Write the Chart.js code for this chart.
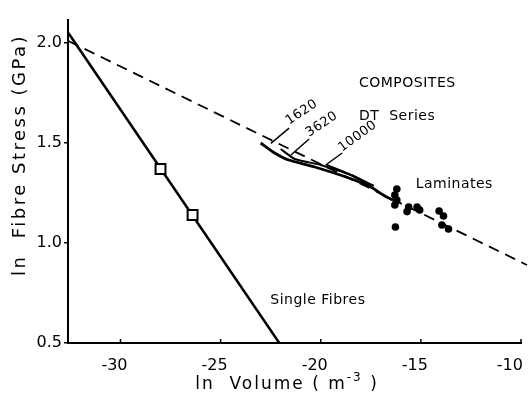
<!DOCTYPE html>
<html>
<head>
<meta charset="utf-8">
<script src="https://cdn.jsdelivr.net/npm/chart.js@4.4.1/dist/chart.umd.min.js"></script>
<style>
  body { margin: 0; background: #fff; }
  #wrap { width: 530px; height: 396px; }
</style>
</head>
<body>
<div id="wrap"><canvas id="chart"></canvas></div>
<script>
// ln volume / ln stress values
let xTicks = [-30, -25, -20, -15, -10]
let yTicks = [0.5, 1.0, 1.5, 2.0]

let dashX = [-32.6, -9.7]
let dashY = [2.01, 0.89]

let fibreLineX = [-32.6, -22.07]
let fibreLineY = [2.05, 0.5]
let fibreX = [-28.0, -26.4]
let fibreY = [1.37, 1.14]

let dt1620X = [-23.0, -22.3, -21.6, -20.3, -18.6, -17.5, -16.8, -16.1]
let dt1620Y = [1.50, 1.45, 1.415, 1.38, 1.325, 1.28, 1.235, 1.20]
let dt3620X = [-22.0, -21.3, -20.0, -18.5, -17.5]
let dt3620Y = [1.47, 1.42, 1.39, 1.34, 1.285]
let dt10000X = [-19.7, -18.35, -17.35]
let dt10000Y = [1.39, 1.335, 1.285]

let lamX = [-16.2, -16.3, -16.2, -16.3, -16.27, -15.69, -15.61, -15.19, -15.06, -14.09, -13.87, -13.95, -13.62]
let lamY = [1.27, 1.24, 1.215, 1.19, 1.08, 1.157, 1.18, 1.18, 1.165, 1.16, 1.135, 1.09, 1.07]

let seriesNames = ['1620', '3620', '10000']

function pts(xs, ys) {
    let out = []
    for (let i = 0; i < xs.length; i++) {
        out.push({ x: xs[i], y: ys[i] })
    }
    return out
}

// leader lines from the series labels down to their curves
let leaders = [
    [{ x: -22.49, y: 1.498 }, { x: -21.58, y: 1.574 }],
    [{ x: -21.49, y: 1.44 }, { x: -20.58, y: 1.52 }],
    [{ x: -19.75, y: 1.39 }, { x: -18.93, y: 1.45 }]
]

Chart.defaults.font.family = "'DejaVu Sans', sans-serif"
Chart.defaults.color = '#000'

let textPlugin = {
    id: 'texts',
    afterDraw(chart) {
        let ctx = chart.ctx
        let sx = chart.scales.x
        let sy = chart.scales.y
        let area = chart.chartArea

        ctx.save()
        ctx.fillStyle = '#000'
        ctx.strokeStyle = '#000'

        // small inward ticks on the x axis
        ctx.lineWidth = 1.5
        sx.ticks.forEach(t => {
            let px = sx.getPixelForValue(t.value)
            ctx.beginPath()
            ctx.moveTo(px, area.bottom)
            ctx.lineTo(px, area.bottom - 4)
            ctx.stroke()
        })

        ctx.textBaseline = 'middle'
        ctx.textAlign = 'left'
        ctx.font = "14px 'DejaVu Sans'"
        ctx.letterSpacing = '0.5px'
        let notes = [
            ['COMPOSITES', -18.09, 1.80],
            ['DT  Series', -18.09, 1.635],
            ['Laminates', -15.26, 1.295],
            ['Single Fibres', -22.52, 0.715]
        ]
        notes.forEach(n => {
            ctx.fillText(n[0], sx.getPixelForValue(n[1]), sy.getPixelForValue(n[2]))
        })

        // rotated series labels
        ctx.font = "13px 'DejaVu Sans'"
        ctx.textBaseline = 'alphabetic'
        let rot = [[-21.58, 1.59, -34], [-20.58, 1.53, -34], [-18.94, 1.455, -36]]
        rot.forEach((r, i) => {
            ctx.save()
            ctx.translate(sx.getPixelForValue(r[0]), sy.getPixelForValue(r[1]))
            ctx.rotate(r[2] * Math.PI / 180)
            ctx.fillText(seriesNames[i], 0, 0)
            ctx.restore()
        })

        // y title
        ctx.save()
        ctx.font = "18px 'DejaVu Sans'"
        ctx.letterSpacing = '2.5px'
        ctx.textAlign = 'center'
        ctx.textBaseline = 'middle'
        ctx.translate(20, 155)
        ctx.rotate(-Math.PI / 2)
        ctx.fillText('ln  Fibre Stress (GPa)', 0, 0)
        ctx.restore()

        // x title with superscript
        ctx.letterSpacing = '2px'
        ctx.textBaseline = 'middle'
        ctx.textAlign = 'left'
        let a = 'ln  Volume ( m', b = '-3', c = ' )'
        ctx.font = "17px 'DejaVu Sans'"
        let wa = ctx.measureText(a).width
        let wc = ctx.measureText(c).width
        ctx.font = "12px 'DejaVu Sans'"
        let wb = ctx.measureText(b).width
        let left = 287 - (wa + wb + wc) / 2
        let ty = 385
        ctx.font = "17px 'DejaVu Sans'"
        ctx.fillText(a, left, ty)
        ctx.font = "12px 'DejaVu Sans'"
        ctx.fillText(b, left + wa, ty - 7)
        ctx.font = "17px 'DejaVu Sans'"
        ctx.fillText(c, left + wa + wb, ty)
        ctx.restore()
    }
}

let lineStyle = { showLine: true, pointRadius: 0, borderColor: '#000', fill: false }

let datasets = [
    { data: pts(fibreX, fibreY), pointStyle: 'rect', pointRadius: 7, backgroundColor: '#fff', borderColor: '#000', borderWidth: 2, showLine: false },
    { data: pts(lamX, lamY), pointRadius: 3.8, backgroundColor: '#000', borderColor: '#000', borderWidth: 0, showLine: false },
    Object.assign({ data: pts(dt1620X, dt1620Y), borderWidth: 2.8, tension: 0.15 }, lineStyle),
    Object.assign({ data: pts(dt3620X, dt3620Y), borderWidth: 2, tension: 0.15 }, lineStyle),
    Object.assign({ data: pts(dt10000X, dt10000Y), borderWidth: 2, tension: 0.15 }, lineStyle),
    Object.assign({ data: leaders[0], borderWidth: 1.5 }, lineStyle),
    Object.assign({ data: leaders[1], borderWidth: 1.5 }, lineStyle),
    Object.assign({ data: leaders[2], borderWidth: 1.5 }, lineStyle),
    Object.assign({ data: pts(fibreLineX, fibreLineY), borderWidth: 2.5 }, lineStyle),
    Object.assign({ data: pts(dashX, dashY), borderWidth: 1.8, borderDash: [11, 7], clip: false }, lineStyle)
]

let chart = new Chart(document.getElementById('chart'), {
    type: 'scatter',
    data: { datasets: datasets },
    options: {
        responsive: true,
        maintainAspectRatio: false,
        animation: false,
        layout: { padding: { top: 20, right: 6, left: 0, bottom: 0 } },
        plugins: { legend: { display: false }, tooltip: { enabled: false } },
        scales: {
            x: {
                type: 'linear',
                min: -32.62,
                max: -10,
                afterBuildTicks: s => { s.ticks = xTicks.map(v => ({ value: v })) },
                afterFit: s => { s.height = 53; s.paddingLeft = 0; s.paddingRight = 0 },
                grid: { display: false },
                border: { display: true, color: '#000', width: 2 },
                ticks: {
                    font: { size: 16 },
                    padding: 5,
                    labelOffset: -6,
                    maxRotation: 0,
                    callback: v => v == -10 ? '-10  ' : String(v)
                }
            },
            y: {
                type: 'linear',
                min: 0.5,
                max: 2.115,
                afterBuildTicks: s => { s.ticks = yTicks.map(v => ({ value: v })) },
                afterFit: s => { s.width = 68; s.paddingTop = 0; s.paddingBottom = 0 },
                grid: { display: true, drawOnChartArea: false, tickLength: 4, color: '#000', lineWidth: 1.5 },
                border: { display: true, color: '#000', width: 2 },
                ticks: {
                    font: { size: 16 },
                    padding: 2,
                    callback: v => v.toFixed(1)
                }
            }
        }
    },
    plugins: [textPlugin]
})
</script>
</body>
</html>
